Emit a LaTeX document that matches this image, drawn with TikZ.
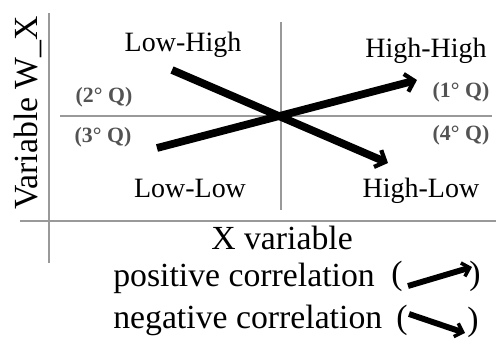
\documentclass[tikz,border=0pt]{standalone}
\usepackage{fontspec}
\setmainfont{Liberation Serif}
\usetikzlibrary{positioning,arrows.meta}

\begin{document}
\begin{tikzpicture}[x=0.025cm,y=-0.025cm,
  % Node Styles
  qlabel/.style={inner sep=0pt, anchor=center, font=\fontsize{19.9}{22}\selectfont},
  qnum/.style={inner sep=0pt, anchor=center, text=gray!65!black, font=\fontsize{15.5}{17}\selectfont\bfseries},
  axlabel/.style={inner sep=0pt, anchor=center, font=\fontsize{24}{28}\selectfont},
  % Line Styles
  axisline/.style={draw=gray!80, line width=2pt},
  midline/.style={draw=gray!80, line width=1.4pt},
  % Arrow Styles
  corrarrow/.style={-{Straight Barb[length=6pt,width=13pt,line width=3pt]}, line width=5.5pt},
  legarrow/.style={-{Straight Barb[length=5pt,width=10pt,line width=2.5pt]}, line width=4.2pt},
]
\useasboundingbox (0,0) rectangle (496,338);

% Axes
\coordinate (YTop) at (49,13);
\coordinate (YBot) at (49,263);
\coordinate (XLeft) at (20,221);
\coordinate (XRight) at (496,221);
\coordinate (MTop) at (281,22);
\coordinate (MBot) at (281,210);
\coordinate (MLeft) at (60,116);
\coordinate (MRight) at (492,116);
\draw[axisline] (YTop) -- (YBot);
\draw[axisline] (XLeft) -- (XRight);
\draw[midline] (MTop) -- (MBot);
\draw[midline] (MLeft) -- (MRight);

% Quadrant labels
\node[qlabel] (LowHigh) at (183,45) {Low-High};
\node[qlabel] (HighHigh) at (426,51) {High-High};
\node[qlabel] (LowLow) at (190,188) {Low-Low};
\node[qlabel] (HighLow) at (421,191) {High-Low};
\node[qnum] (Q2) at (104,97) {(2° Q)};
\node[qnum] (Q3) at (103,137) {(3° Q)};
\node[qnum] (Q1) at (461,92) {(1° Q)};
\node[qnum] (Q4) at (461,135) {(4° Q)};

% Axis titles
\node[axlabel, rotate=90] (YVar) at (28,113) {Variable W\_X};
\node[axlabel] (XVar) at (282,238) {X variable};

% Correlation arrows
\coordinate (PosStart) at (157,148);
\coordinate (PosEnd) at (417,80);
\coordinate (NegStart) at (172,70);
\coordinate (NegEnd) at (388,163);
\draw[corrarrow] (PosStart) -- (PosEnd);
\draw[corrarrow] (NegStart) -- (NegEnd);

% Legend
\node[axlabel, anchor=west] (PosText) at (113,278) {positive correlation};
\node[axlabel] (PosOpen) at (397,276) {(};
\node[axlabel] (PosClose) at (475,276) {)};
\node[axlabel, anchor=west] (NegText) at (113,320) {negative correlation};
\node[axlabel] (NegOpen) at (402,320) {(};
\node[axlabel] (NegClose) at (473,322) {)};
\coordinate (LPosStart) at (408,286);
\coordinate (LPosEnd) at (472,267);
\coordinate (LNegStart) at (409,314);
\coordinate (LNegEnd) at (465,333);
\draw[legarrow] (LPosStart) -- (LPosEnd);
\draw[legarrow] (LNegStart) -- (LNegEnd);

\end{tikzpicture}
\end{document}
